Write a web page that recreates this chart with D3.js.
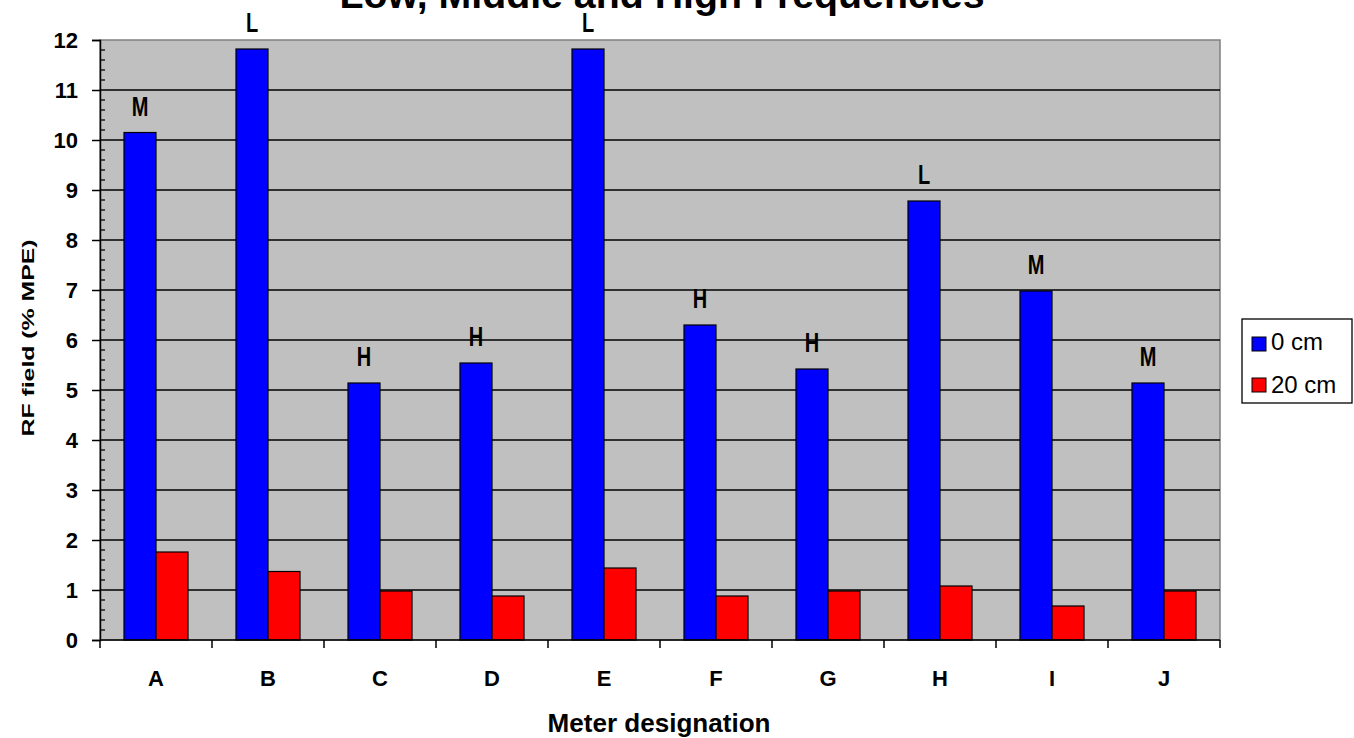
<!DOCTYPE html>
<html>
<head>
<meta charset="utf-8">
<script src="https://cdn.jsdelivr.net/npm/d3@7/dist/d3.min.js"></script>
<style>
  body { margin: 0; background: #fff; }
  svg { display: block; font-family: Arial, "Liberation Sans", sans-serif; }
</style>
</head>
<body>
<svg id="chart"></svg>
<script>
// meter data
const meters = ["A", "B", "C", "D", "E", "F", "G", "H", "I", "J"];
const cm0 = [10.15, 11.82, 5.14, 5.54, 11.82, 6.3, 5.42, 8.78, 6.98, 5.14];
const cm20 = [1.76, 1.37, 0.98, 0.88, 1.44, 0.88, 0.98, 1.08, 0.68, 0.98];
const bandLabels = ["M", "L", "H", "H", "L", "H", "H", "L", "M", "M"];
const seriesNames = ["0 cm", "20 cm"];
const yTicks = [0, 1, 2, 3, 4, 5, 6, 7, 8, 9, 10, 11, 12];

const width = 1354, height = 738;
const plotLeft = 100, plotRight = 1220, plotTop = 40, plotBottom = 640;

const svg = d3.select("#chart").attr("width", width).attr("height", height);

let x = d3.scaleBand().domain(meters).range([plotLeft, plotRight]);
let y = d3.scaleLinear().domain([0, 12]).range([plotBottom, plotTop]);
let barW = 32;

// plot background
svg.append("rect")
   .attr("x", plotLeft).attr("y", plotTop)
   .attr("width", plotRight - plotLeft).attr("height", plotBottom - plotTop)
   .attr("fill", "#c0c0c0")
   .attr("stroke", "#808080").attr("stroke-width", 1.5);

// gridlines
svg.selectAll(".grid")
   .data(yTicks.slice(1, -1)).enter()
   .append("line")
   .attr("class", "grid")
   .attr("x1", plotLeft).attr("x2", plotRight)
   .attr("y1", d => y(d)).attr("y2", d => y(d))
   .attr("stroke", "#000").attr("stroke-width", 1.3);

// 0 cm bars
svg.selectAll(".b0")
   .data(cm0).enter()
   .append("rect")
   .attr("class", "b0")
   .attr("x", (d, i) => x(meters[i]) + x.bandwidth() / 2 - barW)
   .attr("y", d => y(d))
   .attr("width", barW)
   .attr("height", d => plotBottom - y(d))
   .attr("fill", "#0000ff")
   .attr("stroke", "#000").attr("stroke-width", 1.2);

// 20 cm bars
svg.selectAll(".b20")
   .data(cm20).enter()
   .append("rect")
   .attr("class", "b20")
   .attr("x", (d, i) => x(meters[i]) + x.bandwidth() / 2)
   .attr("y", d => y(d))
   .attr("width", barW)
   .attr("height", d => plotBottom - y(d))
   .attr("fill", "#ff0000")
   .attr("stroke", "#000").attr("stroke-width", 1.2);

// L / M / H labels (tall glyphs, like the original)
svg.selectAll(".blab")
   .data(bandLabels).enter()
   .append("text")
   .attr("class", "blab")
   .attr("transform", (d, i) =>
       `translate(${x(meters[i]) + x.bandwidth() / 2 - barW / 2},${y(cm0[i]) - 17}) scale(1,1.35)`)
   .attr("text-anchor", "middle")
   .attr("font-size", 20).attr("font-weight", "bold")
   .text(d => d);

// y axis
let yAxis = d3.axisLeft(y).tickValues(yTicks).tickSize(8).tickPadding(14).tickFormat(d3.format("d"));
let gy = svg.append("g").attr("transform", `translate(${plotLeft},0)`).call(yAxis);
gy.select(".domain").attr("stroke", "#000").attr("stroke-width", 1.5);
gy.selectAll(".tick line").attr("stroke-width", 1.5);
gy.selectAll("text").attr("font-size", 22).attr("font-weight", "bold").attr("fill", "#000")
  .attr("font-family", "Arial, 'Liberation Sans', sans-serif");

// minor ticks inside
let minor = d3.range(0, 12, 0.2).filter(v => Math.abs(v - Math.round(v)) > 0.01);
svg.selectAll(".minor")
   .data(minor).enter()
   .append("line")
   .attr("x1", plotLeft).attr("x2", plotLeft + 5)
   .attr("y1", d => y(d)).attr("y2", d => y(d))
   .attr("stroke", "#000").attr("stroke-width", 1.3);

// x axis
svg.append("line")
   .attr("x1", plotLeft).attr("x2", plotRight)
   .attr("y1", plotBottom).attr("y2", plotBottom)
   .attr("stroke", "#000").attr("stroke-width", 1.5);
let bounds = meters.map(m => x(m)).concat([plotRight]);
svg.selectAll(".xt")
   .data(bounds).enter()
   .append("line")
   .attr("x1", d => d).attr("x2", d => d)
   .attr("y1", plotBottom).attr("y2", plotBottom + 8)
   .attr("stroke", "#000").attr("stroke-width", 1.5);
svg.selectAll(".xl")
   .data(meters).enter()
   .append("text")
   .attr("x", d => x(d) + x.bandwidth() / 2)
   .attr("y", 686)
   .attr("text-anchor", "middle")
   .attr("font-size", 22).attr("font-weight", "bold")
   .text(d => d);

// titles
svg.append("text")
   .attr("x", 662).attr("y", 8)
   .attr("text-anchor", "middle")
   .attr("font-size", 38).attr("font-weight", "bold")
   .attr("textLength", 645).attr("lengthAdjust", "spacingAndGlyphs")
   .text("Low, Middle and High Frequencies");

svg.append("text")
   .attr("x", 659).attr("y", 732)
   .attr("text-anchor", "middle")
   .attr("font-size", 25).attr("font-weight", "bold")
   .attr("textLength", 223).attr("lengthAdjust", "spacingAndGlyphs")
   .text("Meter designation");

svg.append("text")
   .attr("transform", "translate(34,338) rotate(-90)")
   .attr("text-anchor", "middle")
   .attr("font-size", 17).attr("font-weight", "bold")
   .attr("textLength", 197).attr("lengthAdjust", "spacingAndGlyphs")
   .text("RF field (% MPE)");

// legend
let lg = svg.append("g").attr("transform", "translate(1242,319)");
lg.append("rect").attr("width", 110).attr("height", 84)
  .attr("fill", "#fff").attr("stroke", "#000").attr("stroke-width", 1.3);
let colors = ["#0000ff", "#ff0000"];
seriesNames.forEach((s, i) => {
  lg.append("rect").attr("x", 10).attr("y", 18 + i * 41).attr("width", 14).attr("height", 14)
    .attr("fill", colors[i]).attr("stroke", "#000");
  lg.append("text").attr("x", 29).attr("y", 31 + i * 43)
    .attr("font-size", 24).text(s);
});
</script>
</body>
</html>
